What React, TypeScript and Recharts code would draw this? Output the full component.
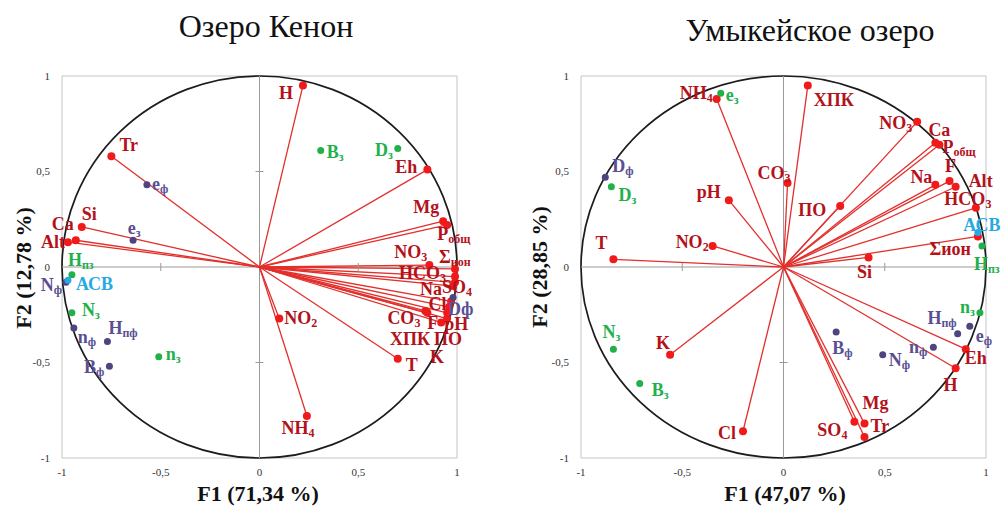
import { ScatterChart, Scatter, XAxis, YAxis, ReferenceLine, ReferenceArea, ReferenceDot } from "recharts";

type Pt = { name: string; x: number; y: number };
type Anchor = "start" | "middle" | "end";
type LabelPos = Record<string, [number, number, Anchor]>;

// "_" splits a name into its main part and the subscript
const TICKS = [-1, -0.5, 0, 0.5, 1];
const HALF_TICKS = [-0.5, 0.5];

// Озеро Кенон
const kenonVars: Pt[] = [
  { name: "H", x: 0.22, y: 0.95 },
  { name: "Tr", x: -0.75, y: 0.58 },
  { name: "Si", x: -0.9, y: 0.21 },
  { name: "Ca", x: -0.93, y: 0.14 },
  { name: "Alt", x: -0.97, y: 0.13 },
  { name: "Eh", x: 0.85, y: 0.51 },
  { name: "Mg", x: 0.93, y: 0.24 },
  { name: "P_общ", x: 0.95, y: 0.22 },
  { name: "NO_3", x: 0.86, y: 0.01 },
  { name: "Σ_ион", x: 0.99, y: -0.01 },
  { name: "HCO_3", x: 0.99, y: -0.05 },
  { name: "Na", x: 0.99, y: -0.08 },
  { name: "SO_4", x: 0.98, y: -0.1 },
  { name: "Cl", x: 0.84, y: -0.23 },
  { name: "CO_3", x: 0.85, y: -0.24 },
  { name: "F", x: 0.92, y: -0.29 },
  { name: "pH", x: 0.95, y: -0.27 },
  { name: "ХПК", x: 0.96, y: -0.21 },
  { name: "ПО", x: 0.97, y: -0.18 },
  { name: "K", x: 0.95, y: -0.24 },
  { name: "T", x: 0.7, y: -0.48 },
  { name: "NO_2", x: 0.1, y: -0.27 },
  { name: "NH_4", x: 0.24, y: -0.78 },
];
const kenonGreen: Pt[] = [
  { name: "B_з", x: 0.31, y: 0.61 },
  { name: "D_з", x: 0.7, y: 0.62 },
  { name: "H_пз", x: -0.95, y: -0.04 },
  { name: "N_з", x: -0.95, y: -0.24 },
  { name: "n_з", x: -0.51, y: -0.47 },
];
const kenonPurple: Pt[] = [
  { name: "e_ф", x: -0.57, y: 0.43 },
  { name: "e_з", x: -0.64, y: 0.14 },
  { name: "Dф", x: 0.98, y: -0.16 },
  { name: "N_ф", x: -0.98, y: -0.08 },
  { name: "n_ф", x: -0.94, y: -0.32 },
  { name: "H_пф", x: -0.77, y: -0.39 },
  { name: "B_ф", x: -0.76, y: -0.52 },
];
const kenonBlue: Pt[] = [{ name: "АСВ", x: -0.97, y: -0.07 }];

// Умыкейское озеро
const umykVars: Pt[] = [
  { name: "NH_4", x: -0.33, y: 0.88 },
  { name: "pH", x: -0.27, y: 0.35 },
  { name: "NO_2", x: -0.35, y: 0.11 },
  { name: "T", x: -0.84, y: 0.04 },
  { name: "ХПК", x: 0.12, y: 0.95 },
  { name: "CO_3", x: 0.02, y: 0.44 },
  { name: "ПО", x: 0.28, y: 0.32 },
  { name: "NO_3", x: 0.66, y: 0.76 },
  { name: "Ca", x: 0.75, y: 0.65 },
  { name: "P_общ", x: 0.77, y: 0.64 },
  { name: "F", x: 0.82, y: 0.45 },
  { name: "Na", x: 0.75, y: 0.43 },
  { name: "Alt", x: 0.85, y: 0.42 },
  { name: "HCO_3", x: 0.95, y: 0.31 },
  { name: "Σион", x: 0.96, y: 0.16 },
  { name: "Si", x: 0.42, y: 0.05 },
  { name: "Eh", x: 0.9, y: -0.43 },
  { name: "H", x: 0.85, y: -0.53 },
  { name: "Mg", x: 0.4, y: -0.82 },
  { name: "SO_4", x: 0.35, y: -0.81 },
  { name: "Tr", x: 0.4, y: -0.89 },
  { name: "Cl", x: -0.2, y: -0.86 },
  { name: "K", x: -0.56, y: -0.46 },
];
const umykGreen: Pt[] = [
  { name: "e_з", x: -0.31, y: 0.91 },
  { name: "D_з", x: -0.85, y: 0.42 },
  { name: "H_пз", x: 0.98, y: 0.11 },
  { name: "n_з", x: 0.97, y: -0.24 },
  { name: "N_з", x: -0.84, y: -0.43 },
  { name: "B_з", x: -0.71, y: -0.61 },
];
const umykPurple: Pt[] = [
  { name: "D_ф", x: -0.88, y: 0.47 },
  { name: "H_пф", x: 0.86, y: -0.35 },
  { name: "e_ф", x: 0.92, y: -0.31 },
  { name: "n_ф", x: 0.74, y: -0.42 },
  { name: "N_ф", x: 0.49, y: -0.46 },
  { name: "B_ф", x: 0.26, y: -0.34 },
];
const umykBlue: Pt[] = [{ name: "АСВ", x: 0.96, y: 0.18 }];

// label placement (pixels from the dot)
const kenonLabels: LabelPos = {
  H: [-10, 7, "end"], Tr: [8, -11, "start"], Si: [0, -13, "start"], Ca: [-2, -16, "end"],
  Alt: [-3, 0, "end"], Eh: [-10, -3, "end"], Mg: [-4, -14, "end"], P_общ: [-10, 9, "start"],
  NO_3: [-2, -13, "end"], "Σ_ион": [-16, -12, "start"], HCO_3: [-9, -4, "end"], Na: [-13, 7, "end"],
  SO_4: [-11, 1, "start"], Cl: [3, -7, "start"], CO_3: [-7, 5, "end"], F: [-3, 1, "end"],
  pH: [-3, 5, "start"], "ХПК": [-19, 32, "end"], "ПО": [-17, 38, "start"], K: [-10, 44, "middle"],
  T: [8, 6, "start"], NO_2: [5, -1, "start"], NH_4: [-9, 12, "middle"],
  "B_з": [6, 2, "start"], "D_з": [-5, 1, "end"], "H_пз": [-4, -15, "start"], "N_з": [10, -3, "start"],
  "n_з": [7, -3, "start"], "e_ф": [5, -1, "start"], "e_з": [1, -12, "middle"], "Dф": [-5, 11, "start"],
  "N_ф": [-4, 3, "end"], "n_ф": [4, 9, "start"], "H_пф": [1, -13, "start"], "B_ф": [-5, 1, "end"],
  "АСВ": [8, 4, "start"],
};
const umykLabels: LabelPos = {
  NH_4: [-4, -6, "end"], pH: [-8, -8, "end"], NO_2: [-4, -4, "end"], T: [-12, -16, "middle"],
  "ХПК": [6, 14, "start"], CO_3: [3, -10, "end"], "ПО": [-14, 4, "end"], NO_3: [-5, 1, "end"],
  Ca: [-7, -13, "start"], P_общ: [3, 2, "start"], F: [1, -15, "middle"], Na: [-3, -8, "end"],
  Alt: [13, -6, "start"], HCO_3: [-8, -9, "middle"], "Σион": [-7, 13, "end"], Si: [-4, 15, "middle"],
  Eh: [-1, 9, "start"], H: [-5, 17, "middle"], Mg: [11, -21, "middle"], SO_4: [-7, 8, "end"],
  Tr: [6, -11, "start"], Cl: [-7, 2, "end"], K: [-7, -12, "middle"],
  "e_з": [5, 2, "start"], "D_з": [7, 8, "start"], "H_пз": [-8, 18, "start"], "n_з": [-5, -6, "end"],
  "N_з": [-2, -17, "middle"], "B_з": [12, 6, "start"], "D_ф": [7, -11, "start"], "H_пф": [-1, -16, "end"],
  "e_ф": [6, 10, "start"], "n_ф": [-6, 0, "end"], "N_ф": [6, 5, "start"], "B_ф": [-4, 16, "start"],
  "АСВ": [4, -8, "middle"],
};

const SERIF = '"Liberation Serif", "Times New Roman", serif';
const RED_DOT = "#f01a1a";
const RED_LINE = "#e2302c";
const RED_TEXT = "#b3121b";
const GREEN = "#22b04b";
const PURPLE_DOT = "#4d4480";
const PURPLE_TEXT = "#5a4f92";
const BLUE = "#27a9e1";

const fmt = (v: number) => String(v).replace(".", ",");

function Tag({ x, y, text, color, anchor }: { x: number; y: number; text: string; color: string; anchor: Anchor }) {
  const [main, sub] = text.split("_");
  return (
    <text x={x} y={y} textAnchor={anchor} dominantBaseline="central" fill={color} fontFamily={SERIF} fontWeight="bold" fontSize={18}>
      {main}
      {sub && (
        <tspan fontSize={12} dy={5}>
          {sub}
        </tspan>
      )}
    </text>
  );
}

const pointShape = (dot: string, ink: string, r: number, pos: LabelPos) => (props: any) => {
  const { cx, cy, payload } = props;
  const [dx, dy, anchor] = pos[payload.name] ?? [6, 0, "start"];
  return (
    <g>
      <circle cx={cx} cy={cy} r={r} fill={dot} />
      <Tag x={cx + dx} y={cy + dy} text={payload.name} color={ink} anchor={anchor} />
    </g>
  );
};

interface CircleProps {
  left: number;
  width: number;
  yAxisWidth: number;
  marginRight: number;
  vars: Pt[];
  green: Pt[];
  purple: Pt[];
  blue: Pt[];
  labels: LabelPos;
}

function CorrelationCircle({ left, width, yAxisWidth, marginRight, vars, green, purple, blue, labels }: CircleProps) {
  const tick = { fontSize: 11, fill: "#333", fontFamily: SERIF };
  return (
    <div style={{ position: "absolute", left, top: 0 }}>
      <ScatterChart width={width} height={506} margin={{ top: 76, right: marginRight, bottom: 0, left: 0 }}>
        <XAxis type="number" dataKey="x" domain={[-1, 1]} ticks={TICKS} tickFormatter={fmt} axisLine={false} tickLine={false} tickSize={0} tickMargin={10} height={48} tick={tick} />
        <YAxis type="number" dataKey="y" domain={[-1, 1]} ticks={TICKS} tickFormatter={fmt} axisLine={false} tickLine={false} tickSize={0} tickMargin={12} width={yAxisWidth} tick={tick} />
        <ReferenceArea x1={-1} x2={1} y1={-1} y2={1} fill="none" fillOpacity={0} stroke="#c4c4c4" />
        <ReferenceLine x={0} stroke="#9a9a9a" />
        <ReferenceLine y={0} stroke="#9a9a9a" />
        {HALF_TICKS.map((v) => (
          <ReferenceDot key={"x" + v} x={v} y={0} shape={(p: any) => <line x1={p.cx} x2={p.cx} y1={p.cy - 4} y2={p.cy + 4} stroke="#9a9a9a" />} />
        ))}
        {HALF_TICKS.map((v) => (
          <ReferenceDot key={"y" + v} x={0} y={v} shape={(p: any) => <line x1={p.cx - 4} x2={p.cx + 4} y1={p.cy} y2={p.cy} stroke="#9a9a9a" />} />
        ))}
        <ReferenceArea
          x1={-1}
          x2={1}
          y1={-1}
          y2={1}
          shape={(p: any) => (
            <ellipse cx={p.x + p.width / 2} cy={p.y + p.height / 2} rx={p.width / 2} ry={p.height / 2} fill="none" stroke="#1c1c1c" strokeWidth={1.7} />
          )}
        />
        {vars.map((p) => (
          <ReferenceLine key={p.name} segment={[{ x: 0, y: 0 }, { x: p.x, y: p.y }]} stroke={RED_LINE} strokeWidth={1.3} />
        ))}
        <Scatter data={vars} shape={pointShape(RED_DOT, RED_TEXT, 4, labels)} isAnimationActive={false} />
        <Scatter data={green} shape={pointShape(GREEN, GREEN, 3.5, labels)} isAnimationActive={false} />
        <Scatter data={purple} shape={pointShape(PURPLE_DOT, PURPLE_TEXT, 3.5, labels)} isAnimationActive={false} />
        <Scatter data={blue} shape={pointShape(BLUE, BLUE, 3.5, labels)} isAnimationActive={false} />
      </ScatterChart>
    </div>
  );
}

const titleStyle = (cx: number, top: number) => ({
  position: "absolute" as const,
  left: cx,
  top,
  transform: "translateX(-50%)",
  fontSize: 32,
  lineHeight: "32px",
  whiteSpace: "nowrap" as const,
  color: "#111",
});
const xTitleStyle = (cx: number) => ({
  position: "absolute" as const,
  left: cx,
  top: 483,
  transform: "translateX(-50%)",
  fontSize: 22,
  lineHeight: "22px",
  fontWeight: "bold" as const,
  whiteSpace: "nowrap" as const,
  color: "#111",
});
const yTitleStyle = (cx: number, cy: number) => ({
  position: "absolute" as const,
  left: cx,
  top: cy,
  transform: "translate(-50%, -50%) rotate(-90deg)",
  fontSize: 22,
  lineHeight: "22px",
  fontWeight: "bold" as const,
  whiteSpace: "nowrap" as const,
  color: "#111",
});

export default function App() {
  return (
    <div style={{ position: "absolute", left: 0, top: 0, width: 1001, height: 506, background: "#fff", fontFamily: SERIF, overflow: "hidden" }}>
      <CorrelationCircle left={0} width={500} yAxisWidth={62} marginRight={43} vars={kenonVars} green={kenonGreen} purple={kenonPurple} blue={kenonBlue} labels={kenonLabels} />
      <CorrelationCircle left={500} width={501} yAxisWidth={81} marginRight={15} vars={umykVars} green={umykGreen} purple={umykPurple} blue={umykBlue} labels={umykLabels} />
      <div style={titleStyle(266, 10)}>Озеро Кенон</div>
      <div style={titleStyle(810, 14)}>Умыкейское озеро</div>
      <div style={xTitleStyle(258)}>F1 (71,34 %)</div>
      <div style={xTitleStyle(785)}>F1 (47,07 %)</div>
      <div style={yTitleStyle(24, 268)}>F2 (12,78 %)</div>
      <div style={yTitleStyle(540, 267)}>F2 (28,85 %)</div>
    </div>
  );
}
